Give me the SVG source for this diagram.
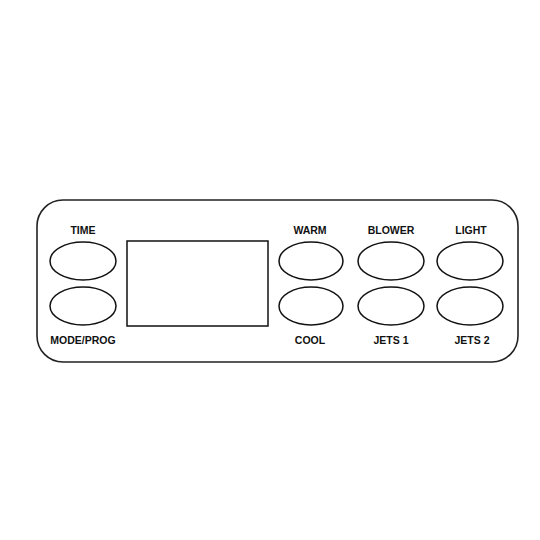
<svg xmlns="http://www.w3.org/2000/svg" width="540" height="540" viewBox="0 0 540 540">
<style>
.panel{fill:#fff;stroke:#222;stroke-width:1.6}
.btn{fill:#fff;stroke:#111;stroke-width:1.5}
.lbl{font-family:"Liberation Sans",Arial,sans-serif;font-weight:bold;font-size:10.5px;fill:#111;text-anchor:middle}
</style>
<rect width="540" height="540" fill="#fff"/>
<g id="panel"><rect class="panel" x="37" y="200" width="481" height="162" rx="26"/></g>
<g id="display"><rect class="btn" x="127" y="241" width="141" height="85"/></g>
<g id="time"><text class="lbl" x="83" y="234">TIME</text><ellipse class="btn" cx="83" cy="261" rx="33" ry="19"/></g>
<g id="mode"><ellipse class="btn" cx="83" cy="306" rx="33" ry="19"/><text class="lbl" x="83" y="344">MODE/PROG</text></g>
<g id="warm"><text class="lbl" x="310" y="234">WARM</text><ellipse class="btn" cx="311" cy="261" rx="32" ry="19"/></g>
<g id="cool"><ellipse class="btn" cx="311" cy="306" rx="32" ry="19"/><text class="lbl" x="310" y="344">COOL</text></g>
<g id="blower"><text class="lbl" x="391" y="234">BLOWER</text><ellipse class="btn" cx="391" cy="261" rx="33" ry="19"/></g>
<g id="jets1"><ellipse class="btn" cx="391" cy="306" rx="33" ry="19"/><text class="lbl" x="391" y="344">JETS 1</text></g>
<g id="light"><text class="lbl" x="471" y="234">LIGHT</text><ellipse class="btn" cx="470" cy="261" rx="33" ry="19"/></g>
<g id="jets2"><ellipse class="btn" cx="470" cy="306" rx="33" ry="19"/><text class="lbl" x="472" y="344">JETS 2</text></g>
<g id="connectors"/>
</svg>
